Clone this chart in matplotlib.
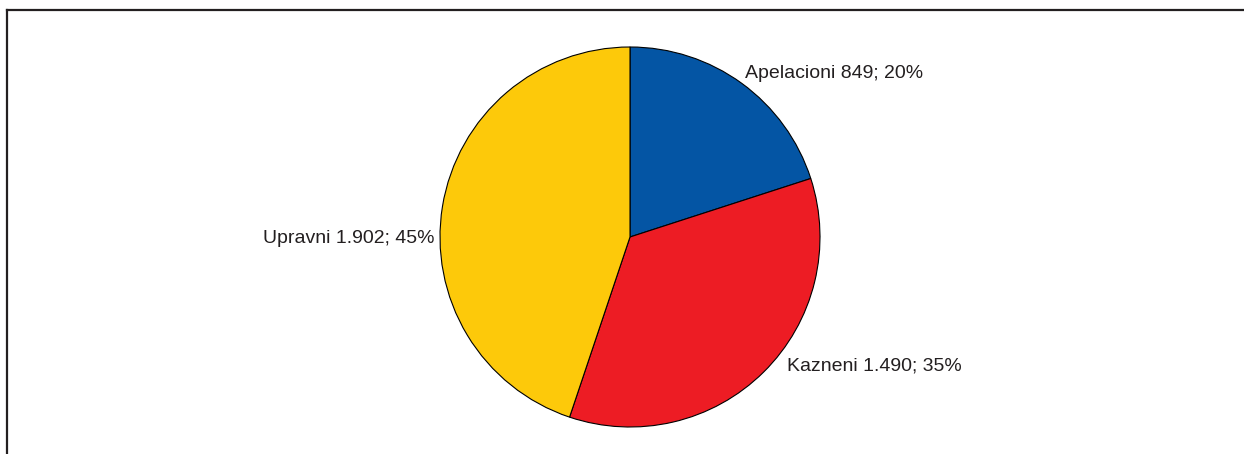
import matplotlib.pyplot as plt
from matplotlib.lines import Line2D

# Data
categories = ['Apelacioni', 'Kazneni', 'Upravni']
values = [849, 1490, 1902]
value_labels = ['849', '1.490', '1.902']
colors = ['#0455A4', '#ED1C24', '#FDC90A']

plt.rcParams['font.family'] = ['Liberation Sans', 'DejaVu Sans']

W, H = 1244, 454
fig = plt.figure(figsize=(W / 100, H / 100), dpi=100)
fig.patch.set_facecolor('white')

# pie centre ~ (630, 237) px, radius ~ 190 px
cx, cy, r = 630, 237, 190
ax = fig.add_axes([(cx - r) / W, (H - cy - r) / H, 2 * r / W, 2 * r / H])

total = sum(values)
wedges, _ = ax.pie(values, colors=colors, startangle=90, counterclock=False,
                   wedgeprops=dict(edgecolor='black', linewidth=0.8))
ax.set_xlim(-1, 1)
ax.set_ylim(-1, 1)
ax.set_aspect('equal')
ax.axis('off')

label_pos = [(0.605, 0.86, 'left'), (0.826, -0.68, 'left'), (-1.03, -0.01, 'right')]
for cat, v, vl, (lx, ly, ha) in zip(categories, values, value_labels, label_pos):
    pct = round(100 * v / total)
    ax.text(lx, ly, f'{cat} {vl}; {pct}%', ha=ha, va='center', fontsize=14,
            color='#231F20', clip_on=False)

# Frame lines (left and top)
fig.add_artist(Line2D([7.5 / W, 7.5 / W], [0, 1 - 10 / H], transform=fig.transFigure,
                      color='#231F20', lw=1.6))
fig.add_artist(Line2D([7 / W, 1], [1 - 10 / H, 1 - 10 / H], transform=fig.transFigure,
                      color='#231F20', lw=1.6))

fig.savefig('out.png', dpi=100)
